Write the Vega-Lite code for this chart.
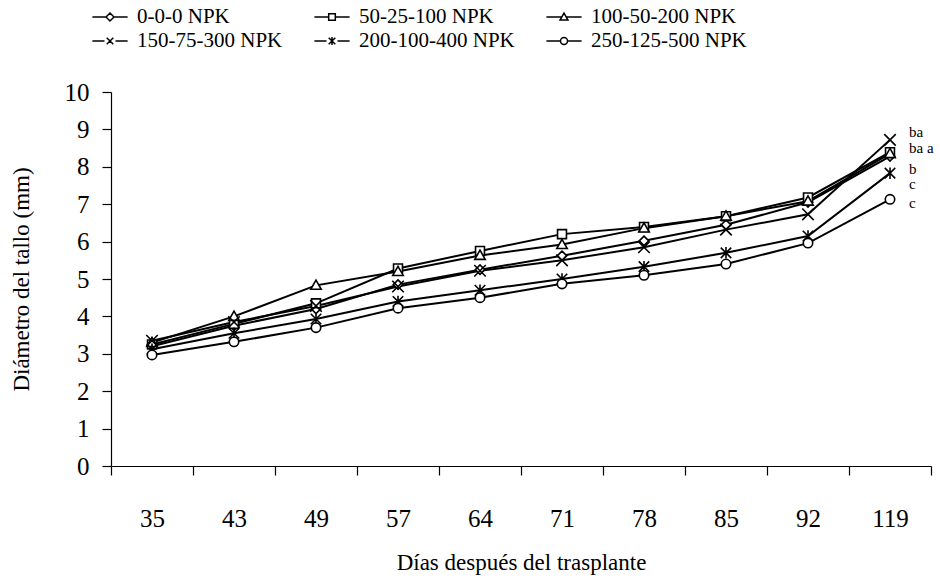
{
  "$schema": "https://vega.github.io/schema/vega-lite/v6.json",
  "autosize": "none",
  "width": 820,
  "height": 374,
  "padding": {"left": 111, "top": 92, "right": 9, "bottom": 112},
  "background": "white",
  "config": {
    "view": {"stroke": null},
    "font": "Liberation Serif, Times New Roman, serif",
    "axis": {
      "labelFont": "Liberation Serif, Times New Roman, serif",
      "titleFont": "Liberation Serif, Times New Roman, serif",
      "labelColor": "black",
      "titleColor": "black",
      "domainColor": "black",
      "tickColor": "black",
      "domainWidth": 1.2,
      "tickWidth": 1.2,
      "grid": false,
      "titleFontWeight": "normal"
    },
    "legend": {
      "labelFont": "Liberation Serif, Times New Roman, serif",
      "labelColor": "black"
    }
  },
  "data": {
    "values": [
      {"d": 35, "t": "0-0-0 NPK", "v": 3.2},
      {"d": 43, "t": "0-0-0 NPK", "v": 3.75},
      {"d": 49, "t": "0-0-0 NPK", "v": 4.2},
      {"d": 57, "t": "0-0-0 NPK", "v": 4.85},
      {"d": 64, "t": "0-0-0 NPK", "v": 5.25},
      {"d": 71, "t": "0-0-0 NPK", "v": 5.62},
      {"d": 78, "t": "0-0-0 NPK", "v": 6.02},
      {"d": 85, "t": "0-0-0 NPK", "v": 6.45},
      {"d": 92, "t": "0-0-0 NPK", "v": 7.05},
      {"d": 119, "t": "0-0-0 NPK", "v": 8.28},
      {"d": 35, "t": "50-25-100 NPK", "v": 3.25},
      {"d": 43, "t": "50-25-100 NPK", "v": 3.8},
      {"d": 49, "t": "50-25-100 NPK", "v": 4.35},
      {"d": 57, "t": "50-25-100 NPK", "v": 5.28},
      {"d": 64, "t": "50-25-100 NPK", "v": 5.75},
      {"d": 71, "t": "50-25-100 NPK", "v": 6.2},
      {"d": 78, "t": "50-25-100 NPK", "v": 6.39},
      {"d": 85, "t": "50-25-100 NPK", "v": 6.68},
      {"d": 92, "t": "50-25-100 NPK", "v": 7.18},
      {"d": 119, "t": "50-25-100 NPK", "v": 8.39},
      {"d": 35, "t": "100-50-200 NPK", "v": 3.3},
      {"d": 43, "t": "100-50-200 NPK", "v": 4.0},
      {"d": 49, "t": "100-50-200 NPK", "v": 4.83},
      {"d": 57, "t": "100-50-200 NPK", "v": 5.2},
      {"d": 64, "t": "100-50-200 NPK", "v": 5.63},
      {"d": 71, "t": "100-50-200 NPK", "v": 5.92},
      {"d": 78, "t": "100-50-200 NPK", "v": 6.36},
      {"d": 85, "t": "100-50-200 NPK", "v": 6.68},
      {"d": 92, "t": "100-50-200 NPK", "v": 7.08},
      {"d": 119, "t": "100-50-200 NPK", "v": 8.35},
      {"d": 35, "t": "150-75-300 NPK", "v": 3.35},
      {"d": 43, "t": "150-75-300 NPK", "v": 3.85},
      {"d": 49, "t": "150-75-300 NPK", "v": 4.28},
      {"d": 57, "t": "150-75-300 NPK", "v": 4.8},
      {"d": 64, "t": "150-75-300 NPK", "v": 5.22},
      {"d": 71, "t": "150-75-300 NPK", "v": 5.5},
      {"d": 78, "t": "150-75-300 NPK", "v": 5.85},
      {"d": 85, "t": "150-75-300 NPK", "v": 6.32},
      {"d": 92, "t": "150-75-300 NPK", "v": 6.73},
      {"d": 119, "t": "150-75-300 NPK", "v": 8.72},
      {"d": 35, "t": "200-100-400 NPK", "v": 3.12},
      {"d": 43, "t": "200-100-400 NPK", "v": 3.55},
      {"d": 49, "t": "200-100-400 NPK", "v": 3.93},
      {"d": 57, "t": "200-100-400 NPK", "v": 4.4},
      {"d": 64, "t": "200-100-400 NPK", "v": 4.7},
      {"d": 71, "t": "200-100-400 NPK", "v": 5.0},
      {"d": 78, "t": "200-100-400 NPK", "v": 5.33},
      {"d": 85, "t": "200-100-400 NPK", "v": 5.7},
      {"d": 92, "t": "200-100-400 NPK", "v": 6.15},
      {"d": 119, "t": "200-100-400 NPK", "v": 7.83},
      {"d": 35, "t": "250-125-500 NPK", "v": 2.97},
      {"d": 43, "t": "250-125-500 NPK", "v": 3.32},
      {"d": 49, "t": "250-125-500 NPK", "v": 3.7},
      {"d": 57, "t": "250-125-500 NPK", "v": 4.22},
      {"d": 64, "t": "250-125-500 NPK", "v": 4.5},
      {"d": 71, "t": "250-125-500 NPK", "v": 4.87},
      {"d": 78, "t": "250-125-500 NPK", "v": 5.1},
      {"d": 85, "t": "250-125-500 NPK", "v": 5.4},
      {"d": 92, "t": "250-125-500 NPK", "v": 5.96},
      {"d": 119, "t": "250-125-500 NPK", "v": 7.13}
    ]
  },
  "encoding": {
    "x": {
      "field": "d",
      "type": "ordinal",
      "scale": {"paddingInner": 0, "paddingOuter": 0},
      "axis": {
        "title": "Días después del trasplante",
        "labelAngle": 0,
        "labelFontSize": 25,
        "titleFontSize": 23,
        "tickBand": "extent",
        "tickSize": 9,
        "labelPadding": 31,
        "titlePadding": 20
      }
    },
    "y": {
      "field": "v",
      "type": "quantitative",
      "scale": {"domain": [0, 10], "nice": false},
      "axis": {
        "title": "Diámetro del tallo (mm)",
        "values": [0, 1, 2, 3, 4, 5, 6, 7, 8, 9, 10],
        "labelFontSize": 25,
        "titleFontSize": 23,
        "tickSize": 9,
        "labelPadding": 13,
        "titlePadding": 31
      }
    }
  },
  "layer": [
    {
      "mark": {"type": "line", "color": "black", "strokeWidth": 2},
      "encoding": {"detail": {"field": "t", "type": "nominal"}}
    },
    {
      "mark": {"type": "point", "filled": true, "fill": "white", "stroke": "black", "strokeWidth": 1.6, "size": 110, "opacity": 1},
      "encoding": {
        "shape": {
          "field": "t",
          "type": "nominal",
          "scale": {
            "domain": ["0-0-0 NPK", "50-25-100 NPK", "100-50-200 NPK", "150-75-300 NPK", "200-100-400 NPK", "250-125-500 NPK"],
            "range": [
              "M0,-0.9L0.9,0L0,0.9L-0.9,0Z",
              "M-0.85,-0.85H0.85V0.85H-0.85Z",
              "M0,-1L1,0.75H-1Z",
              "M-1.1,-1.1L1.1,1.1M-1.1,1.1L1.1,-1.1",
              "M-1,-1L1,1M-1,1L1,-1M0,-1.1V1.1",
              "M0.9,0A0.9,0.9,0,1,1,-0.9,0A0.9,0.9,0,1,1,0.9,0Z"
            ]
          },
          "legend": null
        }
      }
    },
    {
      "transform": [{"filter": "datum.d < 0"}],
      "mark": {"type": "point", "filled": true, "fill": "white", "stroke": "black", "strokeWidth": 1.5, "size": 484, "opacity": 1},
      "encoding": {
        "shape": {
          "field": "t",
          "type": "nominal",
          "scale": {
            "domain": ["0-0-0 NPK", "50-25-100 NPK", "100-50-200 NPK", "150-75-300 NPK", "200-100-400 NPK", "250-125-500 NPK"],
            "range": [
              "M-1.6,0H-0.36M0.36,0H1.6M0,-0.36L0.36,0L0,0.36L-0.36,0Z",
              "M-1.6,0H-0.3M0.3,0H1.6M-0.3,-0.3H0.3V0.3H-0.3Z",
              "M-1.6,0H-0.2M0.2,0H1.6M0,-0.36L0.36,0.28H-0.36Z",
              "M-1.6,0H-0.5M0.5,0H1.6M-0.3,-0.3L0.3,0.3M-0.3,0.3L0.3,-0.3",
              "M-1.6,0H-0.5M0.5,0H1.6M-0.3,-0.3L0.3,0.3M-0.3,0.3L0.3,-0.3M0,-0.36V0.36",
              "M-1.6,0H-0.32M0.32,0H1.6M0.32,0A0.32,0.32,0,1,1,-0.32,0A0.32,0.32,0,1,1,0.32,0Z"
            ]
          },
          "legend": {
            "title": null,
            "orient": "none",
            "legendX": -13,
            "legendY": -87,
            "direction": "horizontal",
            "columns": 3,
            "padding": 0,
            "symbolSize": 484,
            "symbolStrokeWidth": 1.5,
            "labelOffset": 15,
            "labelFontSize": 21,
            "columnPadding": 28,
            "rowPadding": 2
          }
        }
      }
    },
    {
      "data": {
        "values": [
          {"d": 119, "v": 8.93, "txt": "ba"},
          {"d": 119, "v": 8.49, "txt": "ba a"},
          {"d": 119, "v": 7.93, "txt": "b"},
          {"d": 119, "v": 7.53, "txt": "c"},
          {"d": 119, "v": 7.03, "txt": " c"}
        ]
      },
      "mark": {"type": "text", "align": "left", "baseline": "middle", "dx": 19, "fontSize": 15, "font": "Liberation Serif, Times New Roman, serif", "color": "black"},
      "encoding": {"text": {"field": "txt"}}
    }
  ],
  "resolve": {"scale": {"shape": "independent"}, "legend": {"shape": "independent"}}
}
